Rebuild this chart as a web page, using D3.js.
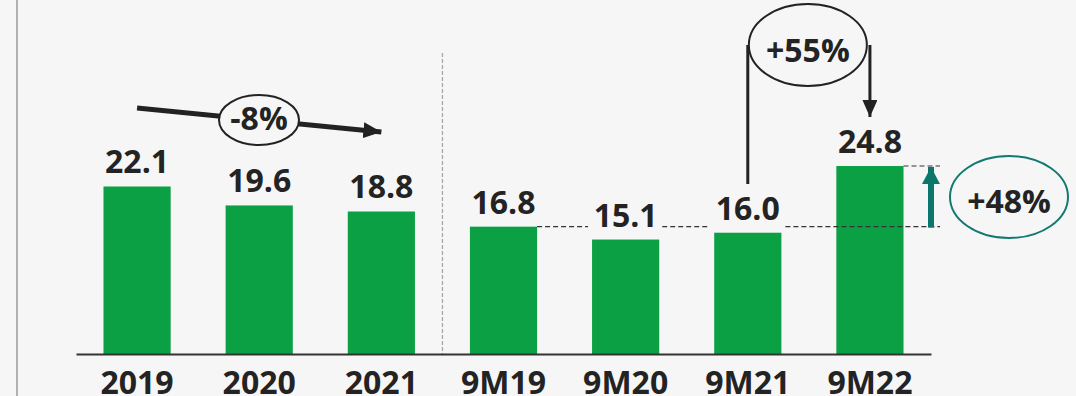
<!DOCTYPE html>
<html>
<head>
<meta charset="utf-8">
<script src="https://cdn.jsdelivr.net/npm/d3@7"></script>
<style>
  html, body { margin: 0; padding: 0; background: #f6f6f6; }
  svg { display: block; }
  text { font-family: "Open Sans", "Noto Sans", sans-serif; font-weight: 700; fill: #232323; }
</style>
</head>
<body>
<svg id="chart" width="1076" height="396"></svg>
<script>
const categories = ["2019", "2020", "2021", "9M19", "9M20", "9M21", "9M22"];
const values = [22.1, 19.6, 18.8, 16.8, 15.1, 16.0, 24.8];
const valueLabels = ["22.1", "19.6", "18.8", "16.8", "15.1", "16.0", "24.8"];
const changeLabels = ["-8%", "+55%", "+48%"];

const W = 1076, H = 396;
const FS = 32;
const svg = d3.select("#chart");
svg.append("rect").attr("width", W).attr("height", H).attr("fill", "#f6f6f6");

const x = d3.scaleBand().domain(categories).range([76, 931]).paddingInner(0.45).paddingOuter(0.225);
const y = d3.scaleLinear().domain([0, 30]).range([354, 126.6]);
const bw = x.bandwidth();
const cx = c => x(c) + bw / 2;

// left frame line
svg.append("line").attr("x1", 17).attr("x2", 17).attr("y1", 0).attr("y2", H)
  .attr("stroke", "#b0b0b0").attr("stroke-width", 2);

// separator dashed vertical line
const sepX = (x("2021") + bw + x("9M19")) / 2;
svg.append("line").attr("x1", sepX).attr("x2", sepX).attr("y1", 53).attr("y2", y(0))
  .attr("stroke", "#a8a8a8").attr("stroke-width", 1.3).attr("stroke-dasharray", "4,2");

// bars
svg.selectAll("rect.bar").data(categories).join("rect").attr("class", "bar")
  .attr("x", d => x(d)).attr("width", bw)
  .attr("y", (d, i) => y(values[i])).attr("height", (d, i) => y(0) - y(values[i]))
  .attr("fill", "#0ca045");

// baseline axis
const axis = d3.axisBottom(x).tickSize(0).tickPadding(0);
const gAxis = svg.append("g").attr("transform", `translate(0,${y(0)})`).call(axis);
gAxis.select(".domain").attr("stroke", "#333").attr("stroke-width", 2);
gAxis.selectAll("text").attr("font-size", FS).attr("dy", 0).attr("y", 39.5)
  .attr("fill", "#232323").style("font-family", "'Open Sans', sans-serif").style("font-weight", 700);

// value labels
svg.selectAll("text.val").data(categories).join("text").attr("class", "val")
  .attr("x", d => cx(d)).attr("y", (d, i) => y(values[i]) - 13)
  .attr("text-anchor", "middle").attr("font-size", FS)
  .text((d, i) => valueLabels[i]);

// markers
const defs = svg.append("defs");
function marker(id, color, w, l) {
  defs.append("marker").attr("id", id).attr("markerUnits", "userSpaceOnUse")
    .attr("viewBox", `0 0 ${l} ${w}`).attr("refX", l).attr("refY", w / 2)
    .attr("markerWidth", l).attr("markerHeight", w).attr("orient", "auto")
    .append("path").attr("d", `M0,0 L${l},${w / 2} L0,${w} Z`).attr("fill", color);
}
marker("arrBlack", "#222", 16, 18);
marker("arrBlack2", "#222", 15, 17);
marker("arrTeal", "#0b776c", 18, 17);

// -8% trend arrow
const a1 = [cx("2019"), 108], a2 = [cx("2021"), 132];
svg.append("line").attr("x1", a1[0]).attr("y1", a1[1]).attr("x2", a2[0]).attr("y2", a2[1])
  .attr("stroke", "#222").attr("stroke-width", 5).attr("marker-end", "url(#arrBlack)");
svg.append("ellipse").attr("cx", 259).attr("cy", 120).attr("rx", 40).attr("ry", 25)
  .attr("fill", "#f6f6f6").attr("stroke", "#222").attr("stroke-width", 2);
svg.append("text").attr("x", 259).attr("y", 130).attr("text-anchor", "middle")
  .attr("font-size", FS).text(changeLabels[0]);

// +55% connector
const l1 = cx("9M21"), l2 = cx("9M22");
svg.append("line").attr("x1", l1).attr("x2", l1).attr("y1", 45).attr("y2", 184)
  .attr("stroke", "#222").attr("stroke-width", 3);
svg.append("line").attr("x1", l2).attr("x2", l2).attr("y1", 45).attr("y2", 117)
  .attr("stroke", "#222").attr("stroke-width", 3).attr("marker-end", "url(#arrBlack2)");
svg.append("ellipse").attr("cx", (l1 + l2) / 2 - 1).attr("cy", 45).attr("rx", 59).attr("ry", 41)
  .attr("fill", "#f6f6f6").attr("stroke", "#222").attr("stroke-width", 2);
svg.append("text").attr("x", (l1 + l2) / 2 - 1).attr("y", 62).attr("text-anchor", "middle")
  .attr("font-size", FS).text(changeLabels[1]);

// dashed reference lines
const yLow = y(values[3]), yHigh = y(values[6]);
const arrowX = 931;
const segs = [
  [x("9M19") + bw, x("9M20") - 4],
  [x("9M20") + bw + 3, x("9M21") - 7],
  [x("9M21") + bw + 4, arrowX + 9]
];
segs.forEach(s => {
  svg.append("line").attr("x1", s[0]).attr("x2", s[1]).attr("y1", yLow).attr("y2", yLow)
    .attr("stroke", "#333").attr("stroke-width", 1.2).attr("stroke-dasharray", "5,3");
});
svg.append("line").attr("x1", x("9M22") + bw).attr("x2", arrowX + 9).attr("y1", yHigh).attr("y2", yHigh)
  .attr("stroke", "#333").attr("stroke-width", 1.2).attr("stroke-dasharray", "5,3");

// +48% teal arrow
svg.append("line").attr("x1", arrowX).attr("x2", arrowX).attr("y1", yLow + 1).attr("y2", yHigh + 1)
  .attr("stroke", "#0b776c").attr("stroke-width", 6).attr("marker-end", "url(#arrTeal)");
svg.append("ellipse").attr("cx", 1009).attr("cy", 197).attr("rx", 59).attr("ry", 41)
  .attr("fill", "none").attr("stroke", "#137a70").attr("stroke-width", 2);
svg.append("text").attr("x", 1009).attr("y", 213).attr("text-anchor", "middle")
  .attr("font-size", FS).text(changeLabels[2]);
</script>
</body>
</html>
